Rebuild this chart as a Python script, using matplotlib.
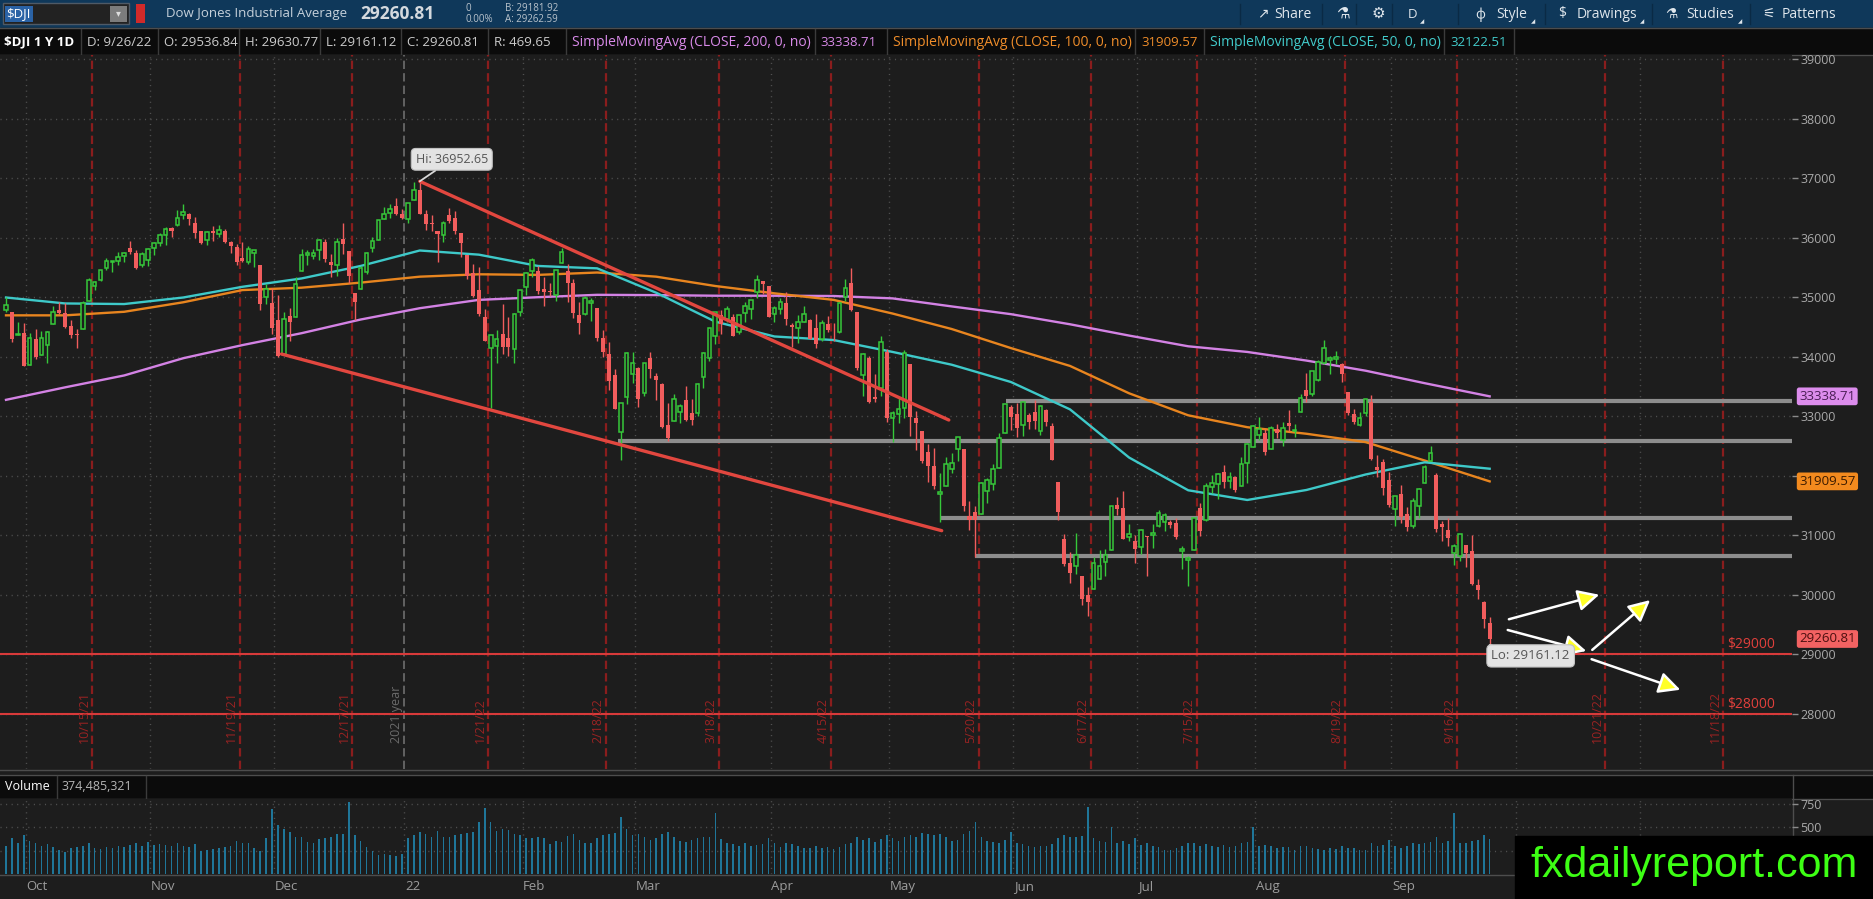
import numpy as np
import pandas as pd
import matplotlib
matplotlib.use("Agg")
import matplotlib.pyplot as plt
import matplotlib.transforms as mtransforms
from matplotlib.patches import Rectangle, FancyArrowPatch

plt.rcParams['font.family'] = ['Open Sans', 'DejaVu Sans']
plt.rcParams['lines.scale_dashes'] = False

# ---------------- data ----------------
holidays = ['2021-11-25', '2021-12-24', '2022-01-17', '2022-02-21', '2022-04-15',
            '2022-05-30', '2022-06-20', '2022-07-04', '2022-09-05', '2022-11-24']

opens = [34798, 34755, 34363, 34400,
         33870, 34309, 34030, 34210, 34550, 34785, 34740, 34520, 34390, 34466, 34942, 35193, 35300, 35500, 35602, 35608, 35694, 35825, 35750, 35546, 35637,
         35833, 35910, 36055, 36167, 36211, 36382, 36408, 36250, 36118, 35960, 36110, 36066, 36120, 35936, 35850, 35662, 35602, 35749, 35540, 35000, 34906,
         34623, 34053, 34687, 34664, 35446, 35706, 35703, 35796, 35930, 35597, 35554, 35975, 35783, 35071, 35135, 35425, 35834, 35972, 36312, 36422, 36533, 36395,
         36322, 36637, 36800, 36409, 36249, 36124, 36046, 36380, 36340, 36080, 35720, 35410, 35130, 34672, 34158, 34185, 34392, 34315, 34130, 34760,
         35178, 35439, 35452, 35145, 35114, 35041, 35574, 35450, 35246, 34712, 34717, 34905, 34827, 34325, 34054, 33694, 32733, 33330, 33709,
         33822, 33400, 33991, 33684, 33553, 32856, 32927, 33071, 33273, 33064, 33062, 33664, 33977, 34347, 34702, 34644, 34680, 34426, 34737, 34799, 35092, 35275, 35200,
         34724, 34810, 34900, 34535, 34495, 34589, 34618, 34485, 34306, 34554, 34428, 34424, 35006, 35241, 34749, 33699, 33975, 33335, 33481, 34086,
         32979, 33050, 33143, 33878, 32967, 32764, 32404, 32173, 31705, 31834, 32123, 32446, 32447, 31333, 31402, 31356, 31753, 31862, 32140, 32719, 33153,
         33046, 32850, 33030, 33082, 32749, 33102, 32845, 31907, 30938, 30535, 30483, 30315, 29997, 30108, 30277, 30554, 30763, 31519, 31456, 30978, 30905,
         30814, 30998, 31001, 31167, 31225, 31235, 31204, 30732, 30581, 30763, 31456, 31266, 31823, 31861, 32070, 31912, 31980, 31830, 32211, 32485,
         32691, 32726, 32451, 32793, 32610, 32891, 32750, 33082, 33438, 33382, 33617, 33891, 33942, 33958, 33886, 33413, 33040, 32855, 33057, 33242, 32150, 32233, 31930,
         31450, 31692, 31367, 31155, 31502, 31877, 32251, 32020, 31185, 31086, 30710, 30661, 30843, 30734, 30168, 29887, 29536.84]

highs = [35006, 34755, 34580, 34564,
         34402, 34478, 34437, 34440, 34865, 34918, 34905, 34620, 34478, 34936, 35325, 35271, 35470, 35670, 35620, 35765, 35772, 35952, 35797, 35763, 35830,
         35937, 36076, 36193, 36187, 36470, 36566, 36414, 36351, 36118, 36115, 36210, 36225, 36157, 35954, 35900, 35933, 35870, 35804, 35540, 35226, 35163,
         35037, 34752, 34826, 35348, 35822, 35797, 35817, 35978, 35978, 35730, 36003, 36248, 35783, 35071, 35537, 35760, 36021, 36303, 36528, 36571, 36679, 36484,
         36595, 36935, 36952.65, 36464, 36382, 36124, 36280, 36512, 36448, 36080, 35720, 35563, 35507, 34802, 34364, 34453, 34883, 34674, 34744, 35133,
         35430, 35661, 35532, 35338, 35243, 35470, 35824, 35565, 35310, 34920, 35024, 34993, 34827, 34457, 34256, 33800, 33227, 34078, 34085,
         33831, 33904, 34088, 33739, 33568, 33232, 33382, 33210, 33511, 33300, 33568, 34090, 34481, 34757, 34789, 34856, 34727, 34708, 34932, 34962, 35372, 35285, 35200,
         34851, 34985, 35092, 34566, 34710, 34865, 34641, 34719, 34628, 34692, 34579, 34932, 35303, 35492, 34749, 34063, 34023, 33721, 34358, 34133,
         33088, 33304, 34118, 33879, 33097, 32764, 32542, 32469, 32054, 32312, 32390, 32655, 32447, 31575, 31497, 31901, 31959, 32208, 32729, 33213, 33188,
         33228, 33250, 33064, 33274, 33195, 33121, 32886, 31907, 31032, 30727, 31039, 30315, 30140, 30635, 30750, 30781, 31500, 31640, 31751, 31195, 31013,
         31114, 30998, 31185, 31427, 31384, 31268, 31300, 30826, 30660, 31302, 31543, 31883, 32015, 32042, 32180, 32065, 31995, 32323, 32558, 32857,
         32988, 32798, 32832, 32879, 32904, 33117, 32866, 33385, 33736, 33762, 33950, 34281, 34016, 34104, 33893, 33413, 33133, 33074, 33302, 33365, 32350, 32293, 32070,
         31657, 31856, 31480, 31637, 31804, 32179, 32505, 32050, 31237, 31288, 30853, 31027, 30843, 31012, 30264, 29893, 29630.77]

lows = [34764, 34248, 34363, 33843,
        33870, 33958, 34030, 33906, 34550, 34716, 34480, 34320, 34157, 34466, 34942, 35119, 35280, 35454, 35430, 35551, 35593, 35738, 35486, 35519, 35535,
        35706, 35861, 35886, 36015, 36204, 36325, 36218, 35998, 35905, 35884, 35950, 36018, 35920, 35749, 35551, 35600, 35560, 35508, 34797, 34888, 34388,
        34006, 34053, 34275, 34664, 35446, 35542, 35646, 35636, 35605, 35344, 35357, 35728, 35250, 34624, 35135, 35400, 35770, 35967, 36312, 36329, 36384, 36322,
        36247, 36637, 36404, 36138, 36112, 35600, 35925, 36248, 36066, 35687, 35304, 35011, 34686, 34262, 33150, 33891, 34043, 34015, 33906, 34690,
        35046, 35346, 35057, 34856, 35028, 34939, 35574, 34930, 34658, 34391, 34713, 34610, 34272, 33995, 33453, 33126, 32272, 33210, 33555,
        33154, 33344, 33647, 33269, 32809, 32580, 32927, 32888, 32932, 32851, 33002, 33480, 33933, 34217, 34384, 34589, 34348, 34392, 34584, 34635, 34995, 35066, 34673,
        34583, 34724, 34537, 34176, 34237, 34586, 34309, 34147, 34272, 34424, 34267, 34395, 34939, 34766, 33776, 33337, 33226, 33237, 33348, 32913,
        32573, 32890, 32980, 32680, 32434, 32215, 31900, 31788, 31228, 31834, 32043, 32255, 31417, 31086, 30636, 31356, 31543, 31761, 32140, 32719, 32781,
        32658, 32675, 32792, 32798, 32695, 32847, 32268, 31263, 30484, 30209, 30355, 29838, 29653, 30108, 30277, 30318, 30763, 31342, 30939, 30908, 30543,
        30687, 30324, 30796, 31140, 31080, 31119, 30935, 30443, 30143, 30763, 30990, 31248, 31708, 31613, 31796, 31803, 31730, 31826, 31876, 32485,
        32611, 32346, 32451, 32643, 32507, 32752, 32661, 33082, 33241, 33352, 33600, 33878, 33713, 33878, 33575, 33024, 32871, 32846, 33000, 32274, 31981, 31679, 31482,
        31164, 31205, 31076, 31127, 31291, 31877, 32250, 31055, 30901, 30820, 30500, 30565, 30478, 30169, 29940, 29439, 29161.12]

closes = [34869, 34300, 34391, 33844,
          34326, 34003, 34315, 34417, 34755, 34746, 34496, 34378, 34378, 34913, 35295, 35259, 35457, 35609, 35603, 35677, 35741, 35757, 35491, 35730, 35820,
          35914, 36053, 36158, 36124, 36328, 36432, 36320, 36080, 35921, 36100, 36087, 36142, 35931, 35871, 35602, 35619, 35814, 35804, 34899, 35136, 34484,
          34022, 34640, 34580, 35227, 35719, 35755, 35755, 35971, 35651, 35544, 35927, 35898, 35365, 34932, 35493, 35754, 35951, 36302, 36398, 36489, 36398, 36338,
          36585, 36800, 36407, 36236, 36232, 36069, 36252, 36290, 36114, 35912, 35368, 35029, 34715, 34265, 34365, 34298, 34168, 34161, 34725, 35132,
          35405, 35629, 35111, 35090, 35091, 35463, 35768, 35242, 34738, 34566, 34989, 34934, 34312, 34079, 33597, 33132, 33224, 34059, 33893,
          33295, 33891, 33795, 33615, 32817, 32633, 33286, 33174, 32944, 32945, 33544, 34063, 34481, 34755, 34553, 34807, 34359, 34708, 34861, 34956, 35294, 35229, 34678,
          34818, 34922, 34641, 34497, 34584, 34721, 34308, 34220, 34565, 34451, 34412, 34911, 35161, 34793, 33811, 34049, 33240, 33302, 34255, 32977,
          33062, 33129, 34061, 32998, 32899, 32246, 32161, 31834, 31730, 32197, 32223, 32655, 31490, 31253, 31262, 31880, 31929, 32120, 32637, 33213, 32990,
          32813, 33248, 32900, 32916, 33180, 32911, 32273, 31393, 30517, 30365, 30669, 29927, 29889, 30530, 30483, 30677, 31501, 31438, 30947, 31029, 30775,
          31097, 30968, 31038, 31385, 31338, 31174, 30981, 30773, 30630, 31288, 31073, 31827, 31875, 32037, 31899, 31990, 31762, 32198, 32530, 32845,
          32798, 32396, 32813, 32727, 32803, 32833, 32774, 33310, 33337, 33761, 33912, 34152, 33980, 33999, 33707, 33064, 32910, 32969, 33292, 32283, 32099, 31791, 31510,
          31656, 31318, 31145, 31581, 31775, 32152, 32381, 31105, 31135, 30962, 30822, 31020, 30706, 30184, 30077, 29590, 29260.81]

volume_m = [300, 380, 330, 420,
            350, 330, 300, 320, 290, 260, 240, 280, 290, 300, 330, 280, 270, 290, 280, 300, 290, 310, 330, 300, 340,
            310, 320, 310, 300, 330, 300, 290, 320, 250, 260, 270, 280, 290, 300, 350, 330, 330, 280, 250, 380, 690,
            520, 480, 450, 400, 390, 340, 330, 370, 380, 400, 430, 430, 770, 420, 350, 290, 250, 200, 210, 200, 190, 210,
            380, 420, 450, 430, 400, 460, 400, 390, 420, 430, 440, 450, 550, 700, 560, 460, 480, 470, 430, 420,
            380, 380, 400, 380, 320, 350, 340, 410, 430, 360, 330, 330, 380, 420, 430, 440, 610, 480, 420,
            430, 400, 360, 380, 430, 450, 400, 350, 340, 360, 380, 400, 400, 650, 370, 330, 320, 300, 330, 300, 310, 320, 380,
            330, 290, 330, 320, 300, 280, 280, 300, 280, 290, 270, 290, 320, 330, 390, 360, 380, 340, 370, 420,
            380, 350, 400, 420, 400, 440, 430, 420, 430, 400, 350, 360, 430, 460, 560, 400, 350, 340, 330, 360, 450,
            330, 320, 300, 290, 300, 300, 320, 380, 420, 400, 390, 410, 720, 380, 350, 340, 500, 330, 350, 320, 380,
            310, 330, 300, 290, 260, 260, 280, 300, 330, 330, 300, 320, 300, 290, 310, 290, 300, 330, 340, 506,
            300, 310, 300, 280, 290, 290, 260, 300, 300, 280, 270, 260, 280, 270, 300, 280, 280, 260, 260, 330, 300, 310, 360,
            300, 280, 300, 330, 320, 330, 340, 400, 330, 350, 650, 330, 330, 350, 360, 420, 374]

# moving averages (candle index, value)
sma_idx = [0, 10, 20, 30, 40, 50, 60, 70, 80, 90, 100, 110, 120, 130, 140, 150, 160, 170, 180, 190, 200, 210, 220, 230, 240, 251]
sma200 = [33280, 33490, 33690, 33980, 34200, 34400, 34630, 34820, 34960, 35005, 35045, 35040, 35030, 35030, 35025, 34985,
          34850, 34720, 34550, 34360, 34180, 34085, 33940, 33770, 33560, 33338.71]
sma100 = [34700, 34700, 34760, 34920, 35125, 35165, 35250, 35350, 35390, 35380, 35420, 35350, 35193, 35070, 34960, 34730,
          34470, 34150, 33850, 33390, 33020, 32820, 32710, 32570, 32260, 31909.57]
sma50 = [35000, 34900, 34890, 35000, 35180, 35320, 35530, 35790, 35720, 35530, 35490, 35080, 34594, 34345, 34285, 34085,
         33870, 33580, 33120, 32310, 31760, 31597, 31765, 32025, 32230, 32122.51]

event_dates = ['2021-10-15', '2021-11-19', '2021-12-17', '2022-01-21', '2022-02-18', '2022-03-18', '2022-04-15',
               '2022-05-20', '2022-06-17', '2022-07-15', '2022-08-19', '2022-09-16', '2022-10-21', '2022-11-18']
event_labels = ['10/15/21', '11/19/21', '12/17/21', '1/21/22', '2/18/22', '3/18/22', '4/15/22',
                '5/20/22', '6/17/22', '7/15/22', '8/19/22', '9/16/22', '10/21/22', '11/18/22']
month_dates = ['2021-10-01', '2021-11-01', '2021-12-01', '2022-01-03', '2022-02-01', '2022-03-01', '2022-04-01',
               '2022-05-02', '2022-06-01', '2022-07-01', '2022-08-01', '2022-09-01', '2022-10-03', '2022-11-01']
month_labels = ['Oct', 'Nov', 'Dec', '22', 'Feb', 'Mar', 'Apr', 'May', 'Jun', 'Jul', 'Aug', 'Sep', '', '']

support_levels = [33262, 32588, 31287, 30659]
support_start = [169.2, 103.5, 158.2, 163.9]
red_levels = [29000, 28000]
red_level_labels = ['$29000', '$28000']
trend_lines = [((70, 36952.65), (159.5, 32941)), ((46.6, 34050), (158.3, 31081))]
arrows = [((253.8, 29580), (270.0, 30017)), ((253.6, 29424), (267.8, 29047)),
          ((268.0, 29047), (278.5, 29945)), ((267.8, 28936), (283.7, 28392))]

# ---------------- calendar ----------------
bd = pd.bdate_range('2021-09-27', '2022-12-30')
tdays = [d for d in bd if d.strftime('%Y-%m-%d') not in holidays]
tser = pd.Series(range(len(tdays)), index=pd.DatetimeIndex(tdays))
n = len(closes)
O = np.array(opens, float); Hh = np.array(highs, float)
L = np.array(lows, float); C = np.array(closes, float)
V = np.array(volume_m, float)
x = np.arange(n)

def pos_of(dstr):
    return tser[tser.index <= pd.Timestamp(dstr)].iloc[-1]

# ---------------- figure layout ----------------
W, H = 1873, 899
BG = '#1d1d1d'
fig = plt.figure(figsize=(W / 100, H / 100), dpi=100)
fig.patch.set_facecolor(BG)

bg = fig.add_axes([0, 0, 1, 1], zorder=0)
bg.set_xlim(0, W); bg.set_ylim(H, 0); bg.axis('off')

X0, DX = 6.0, 5.911
PR = 1792
xl = ((0 - X0) / DX, (PR - X0) / DX)

def add_px_axes(top, bottom, zo):
    return fig.add_axes([0, 1 - bottom / H, PR / W, (bottom - top) / H], zorder=zo)

ax = add_px_axes(55, 769, 2)
vax = add_px_axes(799, 874, 2)
for a in (ax, vax):
    a.set_facecolor(BG)
    a.set_xlim(*xl)
    for s in a.spines.values():
        s.set_visible(False)
    a.tick_params(axis='x', bottom=False, labelbottom=False)
    a.yaxis.tick_right()
    a.tick_params(axis='y', colors='#8a8a8a', labelcolor='#a9a9a9', labelsize=9, length=4, width=1, pad=2)

ax.set_ylim(27075.6, 39075.6)
price_ticks = list(range(28000, 39001, 1000))
ax.set_yticks(price_ticks)
# the 32000 label sits under the 100-day SMA value tag
ax.set_yticklabels(['' if t == 32000 else str(t) for t in price_ticks])
vax.set_ylim(0, 800)
vax.set_yticks([500, 750])

dot = (0, (0.8, 3.2))
for lev in price_ticks:
    ax.axhline(lev, color='#515151', lw=1, ls=dot, zorder=1)
for lev in (250, 500, 750):
    vax.axhline(lev, color='#515151', lw=1, ls=dot, zorder=1)

month_pos = [pos_of(d) - 0.62 for d in month_dates]
for mp, lab in zip(month_pos, month_labels):
    if lab == '22':
        ax.axvline(mp, color='#6e6e6e', lw=1.2, ls=(0, (6, 3)), zorder=1)
        ax.text(mp - 0.3, 27513, '2021 year', rotation=90, ha='right', va='bottom', color='#6a6a6a', fontsize=9)
    else:
        ax.axvline(mp, color='#515151', lw=1, ls=dot, zorder=1)
    vax.axvline(mp, color='#515151', lw=1, ls=dot, zorder=1)
    if lab and mp < 245:
        vax.text(mp + 0.1, -0.17, lab, transform=mtransforms.blended_transform_factory(vax.transData, vax.transAxes),
                 ha='left', va='center', color='#9c9c9c', fontsize=9.5)

for d, lab in zip(event_dates, event_labels):
    ep = pos_of(d) + 0.55
    ax.axvline(ep, color='#8a1d1d', lw=1.6, ls=(0, (6, 3)), zorder=1)
    ax.text(ep - 0.25, 27513, lab, rotation=90, ha='right', va='bottom', color='#9a2323', fontsize=9)

# support / resistance lines
for lev, st in zip(support_levels, support_start):
    ax.hlines(lev, st, xl[1], color='#8d8d8d', lw=3, zorder=2)
for lev, lab in zip(red_levels, red_level_labels):
    ax.axhline(lev, color='#d83a3a', lw=1.5, zorder=2)
    ax.text(299.2, lev + 35, lab, ha='right', va='bottom', color='#e0403c', fontsize=10, zorder=6)

# moving averages
ax.plot(sma_idx, sma200, color='#d382e4', lw=1.7, zorder=3)
ax.plot(sma_idx, sma100, color='#e8851f', lw=1.7, zorder=3)
ax.plot(sma_idx, sma50, color='#3ec9c9', lw=1.7, zorder=3)

# candles
GREEN, RED = '#36c83a', '#f15d5d'
up = C >= O
ax.vlines(x, L, Hh, colors=[GREEN if u else RED for u in up], lw=1, zorder=4)
body = np.maximum(np.abs(C - O), 12)
ax.bar(x[~up], body[~up], bottom=np.minimum(O, C)[~up], width=0.68, color=RED, lw=0, zorder=5)
ax.bar(x[up], body[up], bottom=O[up], width=0.62, facecolor=BG, edgecolor=GREEN, lw=1.1, zorder=5)

# trend lines
for (p0, p1) in trend_lines:
    ax.plot([p0[0], p1[0]], [p0[1], p1[1]], color='#e2473f', lw=2.4, solid_capstyle='round', zorder=6)

# arrows
for (p0, p1) in arrows:
    ax.add_patch(FancyArrowPatch(p0, p1, arrowstyle='-|>,head_length=13,head_width=6.5', mutation_scale=1,
                                 lw=1.8, edgecolor='white', facecolor='#ffff26', zorder=7))

# hi / lo callouts
hi_i = int(np.argmax(Hh)); lo_i = int(np.argmin(L))
ax.annotate(f'Hi: {Hh[hi_i]:.2f}', xy=(hi_i, Hh[hi_i]), xytext=(32, 22), textcoords='offset pixels',
            ha='center', va='center', fontsize=9, color='#555555', zorder=8,
            bbox=dict(boxstyle='round,pad=0.35', fc='#e3e3e3', ec='#c0c0c0', lw=0.8),
            arrowprops=dict(arrowstyle='-', color='#d8d8d8', lw=1.3, shrinkA=0, shrinkB=0))
ax.annotate(f'Lo: {L[lo_i]:.2f}', xy=(lo_i, L[lo_i]), xytext=(41, -11), textcoords='offset pixels',
            ha='center', va='center', fontsize=9.5, color='#555555', zorder=8,
            bbox=dict(boxstyle='round,pad=0.35', fc='#e3e3e3', ec='#c0c0c0', lw=0.8),
            arrowprops=dict(arrowstyle='-', color='#d8d8d8', lw=1.3, shrinkA=0, shrinkB=0))

# right-axis value tags
bt = mtransforms.blended_transform_factory(ax.transAxes, ax.transData)
for val, fc, tc in [(sma200[-1], '#dc8cec', '#4a1d55'), (sma100[-1], '#f28a1e', '#3b1b00'), (C[-1], '#f26262', '#4c0f0f')]:
    ax.text(1.004, val, f'{val:.2f}', transform=bt, ha='left', va='center', fontsize=9.5, color=tc,
            bbox=dict(boxstyle='round,pad=0.18', fc=fc, ec='none'), zorder=9)

# volume bars
vax.bar(x, V, width=0.27, color='#1f7699', lw=0, zorder=3)

# ---------------- header / frame ----------------
def T(xp, yp, s, size=9, color='#cfcfcf', weight='normal', ha='left', va='center', **kw):
    bg.text(xp, yp, s, fontsize=size, color=color, fontweight=weight, ha=ha, va=va, **kw)

bg.add_patch(Rectangle((0, 0), W, 27.5, color='#0f385a', zorder=0))
bg.add_patch(Rectangle((0, 28), W, 27, color='#0b0b0b', zorder=0))
bg.add_patch(Rectangle((0, 775), W, 23.5, color='#0b0b0b', zorder=0))
for yy in (27.5, 55, 770, 775, 798.5, 874.5):
    bg.plot([0, W], [yy, yy], color='#4d4d4d', lw=1, zorder=1)
bg.plot([PR + 1, PR + 1], [775, 874.5], color='#4d4d4d', lw=1, zorder=1)

# toolbar
bg.add_patch(Rectangle((3, 3), 126, 21, fc='#222222', ec='#4f5a66', lw=1, zorder=1))
bg.add_patch(Rectangle((5, 5.5), 28, 16.5, fc='#2a62a5', zorder=2))
T(6, 14, '$DJI', size=9.5, color='white', zorder=3)
bg.add_patch(Rectangle((110, 5.5), 17, 16.5, fc='#7c7c7c', zorder=2))
T(118.5, 14, '▾', size=7, color='#dddddd', ha='center', zorder=3)
bg.add_patch(Rectangle((136, 4), 9, 19, fc='#d02a2a', zorder=2))
T(166, 14, 'Dow Jones Industrial Average', size=9.5, color='#c6d1db')
T(360, 14, '29260.81', size=12.5, color='#d4d9de', weight='bold')
T(466, 8.5, '0', size=7, color='#b9c3cc')
T(466, 19.5, '0.00%', size=7, color='#b9c3cc')
T(505, 8.5, 'B: 29181.92', size=7, color='#b9c3cc')
T(505, 19.5, 'A: 29262.59', size=7, color='#b9c3cc')
tool = [(1257, '↗', 10), (1274, 'Share', 10), (1336, '⚗', 11), (1372, '⚙', 11), (1408, 'D', 9.5),
        (1475, 'ф', 10), (1496, 'Style', 10), (1558, '$', 10), (1577, 'Drawings', 10),
        (1665, '⚗', 10), (1686, 'Studies', 10), (1762, '⚟', 10), (1782, 'Patterns', 10)]
for xp, s, sz in tool:
    T(xp, 14, s, size=sz, color='#dfe6ec')
for xp in (1240, 1322, 1356, 1392, 1458, 1545, 1652, 1750):
    bg.plot([xp, xp], [4, 24], color='#0a2a45', lw=1, zorder=1)
for xp in (1420, 1531, 1640, 1738):
    T(xp, 22, '◢', size=4, color='#dfe6ec')

# info row
info = [(4, '$DJI 1 Y 1D', 'white', 'bold', 9.5), (87, 'D: 9/26/22', '#cccccc', 'normal', 9.5),
        (164, 'O: 29536.84', '#cccccc', 'normal', 9.5), (245, 'H: 29630.77', '#cccccc', 'normal', 9.5),
        (326, 'L: 29161.12', '#cccccc', 'normal', 9.5), (407, 'C: 29260.81', '#cccccc', 'normal', 9.5),
        (494, 'R: 469.65', '#cccccc', 'normal', 9.5),
        (572, 'SimpleMovingAvg (CLOSE, 200, 0, no)', '#d98ae9', 'normal', 10), (820, f'{sma200[-1]:.2f}', '#d98ae9', 'normal', 9.5),
        (893, 'SimpleMovingAvg (CLOSE, 100, 0, no)', '#ef8d2a', 'normal', 10), (1141, f'{sma100[-1]:.2f}', '#ef8d2a', 'normal', 9.5),
        (1210, 'SimpleMovingAvg (CLOSE, 50, 0, no)', '#42cccc', 'normal', 10), (1450, f'{sma50[-1]:.2f}', '#42cccc', 'normal', 9.5)]
for xp, s, col, w, sz in info:
    T(xp, 42, s, size=sz, color=col, weight=w)
for xp in (81, 158, 239, 320, 401, 488, 566, 815, 887, 1135, 1204, 1444, 1514):
    bg.plot([xp, xp], [29, 54], color='#3b3b3b', lw=1, zorder=1)

# volume header
T(5, 787, 'Volume', size=9, color='white')
bg.plot([57, 57], [776, 798], color='#3b3b3b', lw=1)
T(62, 787, '374,485,321', size=9, color='#b5b5b5')
bg.plot([146, 146], [776, 798], color='#3b3b3b', lw=1)

# watermark
fg = fig.add_axes([0, 0, 1, 1], zorder=20)
fg.set_xlim(0, W); fg.set_ylim(H, 0); fg.axis('off'); fg.patch.set_alpha(0)
fg.add_patch(Rectangle((1515, 836), W - 1515, H - 836, color='black'))
fg.text(1694, 866, 'fxdailyreport.com', fontsize=31, color='#3dff14', ha='center', va='center',
        family='Liberation Sans')

fig.savefig('out.png', dpi=100, facecolor=fig.get_facecolor())
